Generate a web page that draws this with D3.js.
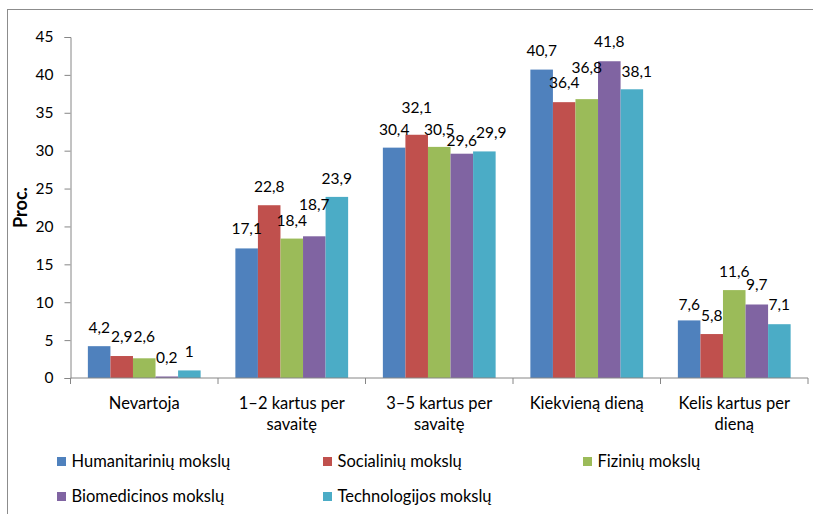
<!DOCTYPE html>
<html><head><meta charset="utf-8">
<script src="https://cdn.jsdelivr.net/npm/d3@7"></script>
<style>
body{margin:0;background:#fff;}
svg{display:block;font-family:Lato,"Open Sans",sans-serif;}
</style></head>
<body>
<svg id="c" width="813" height="514"></svg>
<script>
const categories = [["Nevartoja"],["1–2 kartus per","savaitę"],["3–5 kartus per","savaitę"],["Kiekvieną dieną"],["Kelis kartus per","dieną"]];
const seriesNames = ["Humanitarinių mokslų","Socialinių mokslų","Fizinių mokslų","Biomedicinos mokslų","Technologijos mokslų"];
const colors = ["#4F81BD","#C0504D","#9BBB59","#8064A2","#4BACC6"];
const values = [
  [4.2,17.1,30.4,40.7,7.6],
  [2.9,22.8,32.1,36.4,5.8],
  [2.6,18.4,30.5,36.8,11.6],
  [0.2,18.7,29.6,41.8,9.7],
  [1,23.9,29.9,38.1,7.1]
];
const yTicks = [0,5,10,15,20,25,30,35,40,45];
// manual label nudges (extra lift in px, horizontal shift in px), per series x category
const labelLift = [
  [0,0.5,-1,0,-3.5],
  [0.5,0,8.5,0.5,0],
  [2.5,-0.5,-1.5,12.5,0],
  [0,12.5,-6,0.5,0.5],
  [0,-0.5,0,-1.5,0.5]
];
const labelShift = [
  [0,0,0,0,0],
  [0,0,0,0,0],
  [0,0,0,0,0],
  [0,0,0,0,0],
  [0,0,7,5,0]
];

const svg = d3.select("#c");
const m = {l:70.5, r:808, t:37, b:378};
const FS = 16.5, FN = 15.5;

svg.append("rect").attr("x",7.5).attr("y",9.5).attr("width",900).attr("height",600)
  .attr("fill","none").attr("stroke","#8c8c8c").attr("stroke-width",1);

const x0 = d3.scaleBand().domain(d3.range(categories.length)).range([m.l,m.r]).paddingInner(0).paddingOuter(0);
const x1 = d3.scaleBand().domain(d3.range(seriesNames.length)).range([0,x0.bandwidth()]).paddingOuter(0.77).paddingInner(0);
const y = d3.scaleLinear().domain([0,45]).range([m.b,m.t]);

// y axis
const ya = svg.append("g").attr("transform",`translate(${m.l},0)`)
  .call(d3.axisLeft(y).tickValues(yTicks).tickSize(6).tickPadding(11).tickFormat(d=>d));
ya.select(".domain").attr("stroke","#868686");
ya.selectAll(".tick line").attr("stroke","#868686");
ya.selectAll("text").attr("font-size",FN).attr("fill","#000").attr("font-family","Lato");

svg.append("text").attr("transform",`translate(27,${(m.t+m.b)/2}) rotate(-90)`)
  .attr("text-anchor","middle").attr("font-weight","bold").attr("font-size",18).text("Proc.");

// bars
const data = [];
categories.forEach((c,ci)=>seriesNames.forEach((s,si)=>data.push({ci,si,v:values[si][ci]})));
svg.append("g").selectAll("rect").data(data).join("rect")
  .attr("x",d=>x0(d.ci)+x1(d.si)).attr("width",x1.bandwidth())
  .attr("y",d=>y(d.v)).attr("height",d=>y(0)-y(d.v))
  .attr("fill",d=>colors[d.si]);

svg.append("g").selectAll("text").data(data).join("text")
  .attr("x",d=>x0(d.ci)+x1(d.si)+x1.bandwidth()/2 + labelShift[d.si][d.ci])
  .attr("y",d=>y(d.v)-13.5-labelLift[d.si][d.ci])
  .attr("text-anchor","middle").attr("font-size",FN).attr("fill","#000")
  .text(d=>String(d.v).replace(".",","));

// x axis
const xa = svg.append("g").attr("transform",`translate(0,${m.b})`);
xa.append("line").attr("x1",m.l).attr("x2",m.r).attr("stroke","#868686");
const bounds = d3.range(categories.length+1).map(i=> i<categories.length? x0(i) : m.r);
xa.selectAll(".tk").data(bounds).join("line").attr("class","tk")
  .attr("x1",d=>d).attr("x2",d=>d).attr("y1",0).attr("y2",6).attr("stroke","#868686");
categories.forEach((lines,ci)=>{
  const t = xa.append("text").attr("text-anchor","middle").attr("font-size",FS).attr("fill","#000");
  lines.forEach((ln,li)=>t.append("tspan").attr("x",x0(ci)+x0.bandwidth()/2).attr("y",31+li*21).text(ln));
});

// legend
const legX = [57,323,583];
const legY = [467,502];
seriesNames.forEach((s,i)=>{
  const gx = legX[i%3], gy = legY[Math.floor(i/3)];
  const g = svg.append("g").attr("transform",`translate(${gx},${gy})`);
  g.append("rect").attr("x",0).attr("y",-10).attr("width",9).attr("height",9).attr("fill",colors[i]);
  g.append("text").attr("x",14.5).attr("y",0).attr("font-size",FS).attr("fill","#000").text(s);
});
</script>
</body></html>
